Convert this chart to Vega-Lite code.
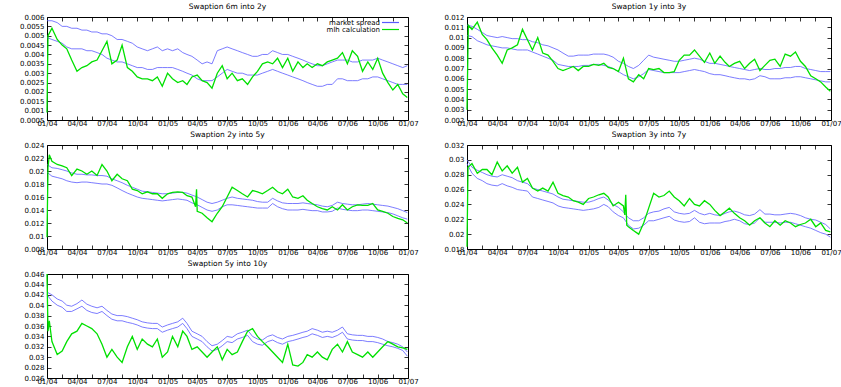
{
 "$schema": "https://vega.github.io/schema/vega-lite/v6.json",
 "padding": {"left": 0, "top": 2, "right": 0, "bottom": 0},
 "background": "white",
 "config": {
  "font": "DejaVu Sans",
  "view": {"stroke": "#000", "strokeWidth": 1},
  "axis": {"domain": false, "grid": false, "labelFont": "DejaVu Sans", "labelFontSize": 7, "labelColor": "#000", "tickColor": "#000", "tickSize": -4, "tickWidth": 0.8, "labelFlush": false, "labelOverlap": false},
  "axisX": {"labelPadding": 3},
  "axisY": {"labelPadding": 7},
  "title": {"font": "DejaVu Sans", "fontSize": 7.5, "fontWeight": "normal", "offset": 2.5, "color": "#000"},
  "legend": {"labelFont": "DejaVu Sans"}
 },
 "datasets": {
  "s1": [
   {"d":"2004-01-01","u":0.0058,"l":0.0049,"m":0.0009},
   {"d":"2004-01-04","m":0.0050},
   {"d":"2004-01-16","u":0.0058,"l":0.0048,"m":0.0054},
   {"d":"2004-02-01","u":0.0057,"l":0.0047,"m":0.0048},
   {"d":"2004-02-16","u":0.0055,"l":0.0046,"m":0.0045},
   {"d":"2004-03-01","u":0.0055,"l":0.0044,"m":0.0043},
   {"d":"2004-03-16","u":0.0054,"l":0.0043,"m":0.0037},
   {"d":"2004-04-01","u":0.0054,"l":0.0043,"m":0.0031},
   {"d":"2004-04-16","u":0.0053,"l":0.0043,"m":0.0033},
   {"d":"2004-05-01","u":0.0053,"l":0.0042,"m":0.0034},
   {"d":"2004-05-16","u":0.0052,"l":0.0042,"m":0.0036},
   {"d":"2004-06-01","u":0.0052,"l":0.0041,"m":0.0037},
   {"d":"2004-06-16","u":0.0051,"l":0.0040,"m":0.0042},
   {"d":"2004-07-01","u":0.0051,"l":0.0038,"m":0.0047},
   {"d":"2004-07-16","u":0.0050,"l":0.0037,"m":0.0035},
   {"d":"2004-08-01","u":0.0048,"l":0.0036,"m":0.0037},
   {"d":"2004-08-16","u":0.0048,"l":0.0036,"m":0.0045},
   {"d":"2004-09-01","u":0.0047,"l":0.0035,"m":0.0033},
   {"d":"2004-09-16","u":0.0046,"l":0.0034,"m":0.0031},
   {"d":"2004-10-01","u":0.0044,"l":0.0033,"m":0.0028},
   {"d":"2004-10-16","u":0.0043,"l":0.0033,"m":0.0027},
   {"d":"2004-11-01","u":0.0042,"l":0.0032,"m":0.0027},
   {"d":"2004-11-16","u":0.0043,"l":0.0032,"m":0.0026},
   {"d":"2004-12-01","u":0.0044,"l":0.0033,"m":0.0028},
   {"d":"2004-12-16","u":0.0042,"l":0.0033,"m":0.0023},
   {"d":"2005-01-01","u":0.0043,"l":0.0033,"m":0.0030},
   {"d":"2005-01-16","u":0.0042,"l":0.0033,"m":0.0027},
   {"d":"2005-02-01","u":0.0043,"l":0.0032,"m":0.0025},
   {"d":"2005-02-16","u":0.0041,"l":0.0031,"m":0.0026},
   {"d":"2005-03-01","u":0.0040,"l":0.0030,"m":0.0024},
   {"d":"2005-03-16","u":0.0039,"l":0.0029,"m":0.0028},
   {"d":"2005-04-01","u":0.0037,"l":0.0027,"m":0.0029},
   {"d":"2005-04-16","u":0.0035,"l":0.0026,"m":0.0026},
   {"d":"2005-05-01","u":0.0036,"l":0.0026,"m":0.0025},
   {"d":"2005-05-16","u":0.0035,"l":0.0026,"m":0.0022},
   {"d":"2005-06-01","u":0.0042,"l":0.0028,"m":0.0030},
   {"d":"2005-06-16","u":0.0043,"l":0.0030,"m":0.0034},
   {"d":"2005-07-01","u":0.0044,"l":0.0032,"m":0.0027},
   {"d":"2005-07-16","u":0.0043,"l":0.0031,"m":0.0030},
   {"d":"2005-08-01","u":0.0042,"l":0.0030,"m":0.0026},
   {"d":"2005-08-16","u":0.0041,"l":0.0030,"m":0.0027},
   {"d":"2005-09-01","u":0.0040,"l":0.0029,"m":0.0024},
   {"d":"2005-09-16","u":0.0039,"l":0.0029,"m":0.0028},
   {"d":"2005-10-01","u":0.0039,"l":0.0029,"m":0.0031},
   {"d":"2005-10-16","u":0.0040,"l":0.0030,"m":0.0035},
   {"d":"2005-11-01","u":0.0040,"l":0.0031,"m":0.0036},
   {"d":"2005-11-16","u":0.0042,"l":0.0032,"m":0.0035},
   {"d":"2005-12-01","u":0.0041,"l":0.0031,"m":0.0038},
   {"d":"2005-12-16","u":0.0040,"l":0.0030,"m":0.0033},
   {"d":"2006-01-01","u":0.0040,"l":0.0029,"m":0.0038},
   {"d":"2006-01-16","u":0.0039,"l":0.0028,"m":0.0031},
   {"d":"2006-02-01","u":0.0038,"l":0.0027,"m":0.0036},
   {"d":"2006-02-16","u":0.0037,"l":0.0026,"m":0.0033},
   {"d":"2006-03-01","u":0.0036,"l":0.0025,"m":0.0035},
   {"d":"2006-03-16","u":0.0035,"l":0.0024,"m":0.0033},
   {"d":"2006-04-01","u":0.0034,"l":0.0023,"m":0.0035},
   {"d":"2006-04-16","u":0.0034,"l":0.0023,"m":0.0034},
   {"d":"2006-05-01","u":0.0035,"l":0.0024,"m":0.0036},
   {"d":"2006-05-16","u":0.0036,"l":0.0024,"m":0.0037},
   {"d":"2006-06-01","u":0.0037,"l":0.0027,"m":0.0038},
   {"d":"2006-06-16","u":0.0037,"l":0.0027,"m":0.0041},
   {"d":"2006-07-01","u":0.0037,"l":0.0026,"m":0.0035},
   {"d":"2006-07-16","u":0.0036,"l":0.0026,"m":0.0042},
   {"d":"2006-08-01","u":0.0036,"l":0.0026,"m":0.0039},
   {"d":"2006-08-16","u":0.0037,"l":0.0027,"m":0.0031},
   {"d":"2006-09-01","u":0.0037,"l":0.0027,"m":0.0036},
   {"d":"2006-09-16","u":0.0037,"l":0.0028,"m":0.0032},
   {"d":"2006-10-01","u":0.0038,"l":0.0028,"m":0.0038},
   {"d":"2006-10-16","u":0.0037,"l":0.0027,"m":0.0030},
   {"d":"2006-11-01","u":0.0036,"l":0.0026,"m":0.0025},
   {"d":"2006-11-16","u":0.0035,"l":0.0025,"m":0.0021},
   {"d":"2006-12-01","u":0.0034,"l":0.0024,"m":0.0024},
   {"d":"2006-12-16","u":0.0033,"l":0.0024,"m":0.0019},
   {"d":"2006-12-30","u":0.0034,"l":0.0024,"m":0.0017}
  ],
  "s2": [
   {"d":"2004-01-01","u":0.0112,"l":0.0102,"m":0.0030},
   {"d":"2004-01-05","m":0.0112},
   {"d":"2004-01-16","u":0.0111,"l":0.0101,"m":0.0108},
   {"d":"2004-02-01","u":0.0108,"l":0.0097,"m":0.0115},
   {"d":"2004-02-16","u":0.0105,"l":0.0095,"m":0.0103},
   {"d":"2004-03-01","u":0.0102,"l":0.0093,"m":0.0098},
   {"d":"2004-03-16","u":0.0101,"l":0.0092,"m":0.0090},
   {"d":"2004-04-01","u":0.0100,"l":0.0091,"m":0.0083},
   {"d":"2004-04-16","u":0.0101,"l":0.0090,"m":0.0075},
   {"d":"2004-05-01","u":0.0100,"l":0.0090,"m":0.0088},
   {"d":"2004-05-16","u":0.0099,"l":0.0089,"m":0.0090},
   {"d":"2004-06-01","u":0.0099,"l":0.0088,"m":0.0093},
   {"d":"2004-06-16","u":0.0098,"l":0.0088,"m":0.0108},
   {"d":"2004-07-01","u":0.0098,"l":0.0088,"m":0.0098},
   {"d":"2004-07-16","u":0.0096,"l":0.0086,"m":0.0088},
   {"d":"2004-08-01","u":0.0095,"l":0.0084,"m":0.0100},
   {"d":"2004-08-16","u":0.0093,"l":0.0082,"m":0.0085},
   {"d":"2004-09-01","u":0.0092,"l":0.0080,"m":0.0083},
   {"d":"2004-09-16","u":0.0090,"l":0.0078,"m":0.0077},
   {"d":"2004-10-01","u":0.0088,"l":0.0074,"m":0.0070},
   {"d":"2004-10-16","u":0.0085,"l":0.0073,"m":0.0068},
   {"d":"2004-11-01","u":0.0082,"l":0.0072,"m":0.0070},
   {"d":"2004-11-16","u":0.0082,"l":0.0072,"m":0.0072},
   {"d":"2004-12-01","u":0.0083,"l":0.0072,"m":0.0068},
   {"d":"2004-12-16","u":0.0083,"l":0.0073,"m":0.0072},
   {"d":"2005-01-01","u":0.0083,"l":0.0073,"m":0.0072},
   {"d":"2005-01-16","u":0.0084,"l":0.0074,"m":0.0074},
   {"d":"2005-02-01","u":0.0084,"l":0.0074,"m":0.0073},
   {"d":"2005-02-16","u":0.0084,"l":0.0073,"m":0.0075},
   {"d":"2005-03-01","u":0.0083,"l":0.0072,"m":0.0071},
   {"d":"2005-03-16","u":0.0081,"l":0.0070,"m":0.0070},
   {"d":"2005-04-01","u":0.0077,"l":0.0067,"m":0.0067},
   {"d":"2005-04-16","u":0.0075,"l":0.0064,"m":0.0080},
   {"d":"2005-05-01","u":0.0072,"l":0.0062,"m":0.0060},
   {"d":"2005-05-16","u":0.0070,"l":0.0060,"m":0.0057},
   {"d":"2005-06-01","u":0.0073,"l":0.0062,"m":0.0064},
   {"d":"2005-06-16","u":0.0078,"l":0.0065,"m":0.0060},
   {"d":"2005-07-01","u":0.0083,"l":0.0069,"m":0.0070},
   {"d":"2005-07-16","u":0.0081,"l":0.0068,"m":0.0069},
   {"d":"2005-08-01","u":0.0080,"l":0.0067,"m":0.0070},
   {"d":"2005-08-16","u":0.0079,"l":0.0066,"m":0.0066},
   {"d":"2005-09-01","u":0.0078,"l":0.0066,"m":0.0066},
   {"d":"2005-09-16","u":0.0077,"l":0.0066,"m":0.0067},
   {"d":"2005-10-01","u":0.0077,"l":0.0066,"m":0.0078},
   {"d":"2005-10-16","u":0.0078,"l":0.0067,"m":0.0083},
   {"d":"2005-11-01","u":0.0079,"l":0.0068,"m":0.0083},
   {"d":"2005-11-16","u":0.0080,"l":0.0069,"m":0.0088},
   {"d":"2005-12-01","u":0.0079,"l":0.0068,"m":0.0082},
   {"d":"2005-12-16","u":0.0077,"l":0.0067,"m":0.0076},
   {"d":"2006-01-01","u":0.0075,"l":0.0065,"m":0.0085},
   {"d":"2006-01-16","u":0.0075,"l":0.0064,"m":0.0075},
   {"d":"2006-02-01","u":0.0074,"l":0.0064,"m":0.0082},
   {"d":"2006-02-16","u":0.0073,"l":0.0063,"m":0.0076},
   {"d":"2006-03-01","u":0.0072,"l":0.0062,"m":0.0072},
   {"d":"2006-03-16","u":0.0071,"l":0.0061,"m":0.0075},
   {"d":"2006-04-01","u":0.0070,"l":0.0060,"m":0.0077},
   {"d":"2006-04-16","u":0.0069,"l":0.0060,"m":0.0070},
   {"d":"2006-05-01","u":0.0068,"l":0.0059,"m":0.0075},
   {"d":"2006-05-16","u":0.0069,"l":0.0060,"m":0.0079},
   {"d":"2006-06-01","u":0.0070,"l":0.0063,"m":0.0068},
   {"d":"2006-06-16","u":0.0069,"l":0.0062,"m":0.0073},
   {"d":"2006-07-01","u":0.0069,"l":0.0060,"m":0.0078},
   {"d":"2006-07-16","u":0.0070,"l":0.0060,"m":0.0079},
   {"d":"2006-08-01","u":0.0070,"l":0.0060,"m":0.0072},
   {"d":"2006-08-16","u":0.0071,"l":0.0061,"m":0.0084},
   {"d":"2006-09-01","u":0.0071,"l":0.0061,"m":0.0082},
   {"d":"2006-09-16","u":0.0072,"l":0.0062,"m":0.0086},
   {"d":"2006-10-01","u":0.0072,"l":0.0062,"m":0.0077},
   {"d":"2006-10-16","u":0.0070,"l":0.0061,"m":0.0072},
   {"d":"2006-11-01","u":0.0069,"l":0.0060,"m":0.0063},
   {"d":"2006-11-16","u":0.0068,"l":0.0059,"m":0.0060},
   {"d":"2006-12-01","u":0.0067,"l":0.0058,"m":0.0057},
   {"d":"2006-12-16","u":0.0067,"l":0.0057,"m":0.0052},
   {"d":"2006-12-30","u":0.0067,"l":0.0057,"m":0.0048}
  ],
  "s3": [
   {"d":"2004-01-01","u":0.0210,"l":0.0198,"m":0.0098},
   {"d":"2004-01-04","m":0.0205},
   {"d":"2004-01-08","m":0.0225},
   {"d":"2004-01-16","u":0.0205,"l":0.0192,"m":0.0215},
   {"d":"2004-02-01","u":0.0204,"l":0.0190,"m":0.0210},
   {"d":"2004-02-16","u":0.0202,"l":0.0188,"m":0.0208},
   {"d":"2004-03-01","u":0.0200,"l":0.0185,"m":0.0205},
   {"d":"2004-03-16","u":0.0197,"l":0.0183,"m":0.0193},
   {"d":"2004-04-01","u":0.0195,"l":0.0182,"m":0.0203},
   {"d":"2004-04-16","u":0.0195,"l":0.0183,"m":0.0200},
   {"d":"2004-05-01","u":0.0194,"l":0.0183,"m":0.0195},
   {"d":"2004-05-16","u":0.0194,"l":0.0182,"m":0.0200},
   {"d":"2004-06-01","u":0.0193,"l":0.0181,"m":0.0193},
   {"d":"2004-06-16","u":0.0193,"l":0.0180,"m":0.0210},
   {"d":"2004-07-01","u":0.0192,"l":0.0180,"m":0.0200},
   {"d":"2004-07-16","u":0.0188,"l":0.0178,"m":0.0185},
   {"d":"2004-08-01","u":0.0185,"l":0.0174,"m":0.0195},
   {"d":"2004-08-16","u":0.0182,"l":0.0170,"m":0.0188},
   {"d":"2004-09-01","u":0.0178,"l":0.0166,"m":0.0185},
   {"d":"2004-09-16","u":0.0175,"l":0.0163,"m":0.0172},
   {"d":"2004-10-01","u":0.0172,"l":0.0160,"m":0.0170},
   {"d":"2004-10-16","u":0.0169,"l":0.0158,"m":0.0165},
   {"d":"2004-11-01","u":0.0168,"l":0.0157,"m":0.0168},
   {"d":"2004-11-16","u":0.0167,"l":0.0156,"m":0.0165},
   {"d":"2004-12-01","u":0.0166,"l":0.0155,"m":0.0165},
   {"d":"2004-12-16","u":0.0165,"l":0.0154,"m":0.0158},
   {"d":"2005-01-01","u":0.0165,"l":0.0155,"m":0.0165},
   {"d":"2005-01-16","u":0.0166,"l":0.0156,"m":0.0167},
   {"d":"2005-02-01","u":0.0167,"l":0.0157,"m":0.0168},
   {"d":"2005-02-16","u":0.0167,"l":0.0156,"m":0.0167},
   {"d":"2005-03-01","u":0.0166,"l":0.0155,"m":0.0162},
   {"d":"2005-03-16","u":0.0163,"l":0.0151,"m":0.0160},
   {"d":"2005-03-27","m":0.0145},
   {"d":"2005-03-30","m":0.0172},
   {"d":"2005-04-01","u":0.0160,"l":0.0148,"m":0.0138},
   {"d":"2005-04-16","u":0.0156,"l":0.0144,"m":0.0135},
   {"d":"2005-05-01","u":0.0152,"l":0.0140,"m":0.0128},
   {"d":"2005-05-16","u":0.0150,"l":0.0138,"m":0.0122},
   {"d":"2005-06-01","u":0.0152,"l":0.0140,"m":0.0135},
   {"d":"2005-06-16","u":0.0155,"l":0.0145,"m":0.0145},
   {"d":"2005-07-01","u":0.0158,"l":0.0148,"m":0.0160},
   {"d":"2005-07-16","u":0.0160,"l":0.0148,"m":0.0175},
   {"d":"2005-08-01","u":0.0158,"l":0.0147,"m":0.0170},
   {"d":"2005-08-16","u":0.0157,"l":0.0146,"m":0.0165},
   {"d":"2005-09-01","u":0.0156,"l":0.0145,"m":0.0160},
   {"d":"2005-09-16","u":0.0155,"l":0.0144,"m":0.0170},
   {"d":"2005-10-01","u":0.0153,"l":0.0143,"m":0.0168},
   {"d":"2005-10-16","u":0.0152,"l":0.0143,"m":0.0165},
   {"d":"2005-11-01","u":0.0152,"l":0.0143,"m":0.0170},
   {"d":"2005-11-16","u":0.0158,"l":0.0150,"m":0.0175},
   {"d":"2005-12-01","u":0.0154,"l":0.0145,"m":0.0168},
   {"d":"2005-12-16","u":0.0151,"l":0.0142,"m":0.0165},
   {"d":"2006-01-01","u":0.0150,"l":0.0140,"m":0.0172},
   {"d":"2006-01-16","u":0.0150,"l":0.0140,"m":0.0160},
   {"d":"2006-02-01","u":0.0150,"l":0.0140,"m":0.0158},
   {"d":"2006-02-16","u":0.0151,"l":0.0141,"m":0.0162},
   {"d":"2006-03-01","u":0.0150,"l":0.0140,"m":0.0155},
   {"d":"2006-03-16","u":0.0149,"l":0.0139,"m":0.0150},
   {"d":"2006-04-01","u":0.0148,"l":0.0139,"m":0.0145},
   {"d":"2006-04-16","u":0.0146,"l":0.0137,"m":0.0142},
   {"d":"2006-05-01","u":0.0145,"l":0.0137,"m":0.0140},
   {"d":"2006-05-16","u":0.0147,"l":0.0138,"m":0.0145},
   {"d":"2006-06-01","u":0.0152,"l":0.0143,"m":0.0140},
   {"d":"2006-06-16","u":0.0150,"l":0.0141,"m":0.0148},
   {"d":"2006-07-01","u":0.0149,"l":0.0140,"m":0.0140},
   {"d":"2006-07-16","u":0.0148,"l":0.0139,"m":0.0145},
   {"d":"2006-08-01","u":0.0148,"l":0.0139,"m":0.0148},
   {"d":"2006-08-16","u":0.0149,"l":0.0140,"m":0.0147},
   {"d":"2006-09-01","u":0.0150,"l":0.0140,"m":0.0147},
   {"d":"2006-09-16","u":0.0149,"l":0.0139,"m":0.0150},
   {"d":"2006-10-01","u":0.0148,"l":0.0138,"m":0.0140},
   {"d":"2006-10-16","u":0.0147,"l":0.0137,"m":0.0138},
   {"d":"2006-11-01","u":0.0146,"l":0.0136,"m":0.0135},
   {"d":"2006-11-16","u":0.0144,"l":0.0134,"m":0.0130},
   {"d":"2006-12-01","u":0.0142,"l":0.0131,"m":0.0127},
   {"d":"2006-12-16","u":0.0139,"l":0.0128,"m":0.0125},
   {"d":"2006-12-30","u":0.0136,"l":0.0126,"m":0.0120}
  ],
  "s4": [
   {"d":"2004-01-01","u":0.0300,"l":0.0295,"m":0.0183},
   {"d":"2004-01-04","m":0.0290},
   {"d":"2004-01-16","u":0.0290,"l":0.0282,"m":0.0295},
   {"d":"2004-02-01","u":0.0286,"l":0.0275,"m":0.0282},
   {"d":"2004-02-16","u":0.0283,"l":0.0272,"m":0.0287},
   {"d":"2004-03-01","u":0.0280,"l":0.0268,"m":0.0287},
   {"d":"2004-03-16","u":0.0278,"l":0.0266,"m":0.0280},
   {"d":"2004-04-01","u":0.0277,"l":0.0265,"m":0.0297},
   {"d":"2004-04-16","u":0.0280,"l":0.0268,"m":0.0285},
   {"d":"2004-05-01","u":0.0278,"l":0.0265,"m":0.0292},
   {"d":"2004-05-16","u":0.0276,"l":0.0263,"m":0.0282},
   {"d":"2004-06-01","u":0.0272,"l":0.0260,"m":0.0290},
   {"d":"2004-06-16","u":0.0270,"l":0.0259,"m":0.0270},
   {"d":"2004-07-01","u":0.0268,"l":0.0258,"m":0.0275},
   {"d":"2004-07-16","u":0.0262,"l":0.0250,"m":0.0262},
   {"d":"2004-08-01","u":0.0260,"l":0.0248,"m":0.0258},
   {"d":"2004-08-16","u":0.0258,"l":0.0246,"m":0.0262},
   {"d":"2004-09-01","u":0.0256,"l":0.0244,"m":0.0258},
   {"d":"2004-09-16","u":0.0254,"l":0.0242,"m":0.0270},
   {"d":"2004-10-01","u":0.0250,"l":0.0238,"m":0.0255},
   {"d":"2004-10-16","u":0.0247,"l":0.0236,"m":0.0252},
   {"d":"2004-11-01","u":0.0246,"l":0.0235,"m":0.0250},
   {"d":"2004-11-16","u":0.0245,"l":0.0234,"m":0.0245},
   {"d":"2004-12-01","u":0.0244,"l":0.0233,"m":0.0243},
   {"d":"2004-12-16","u":0.0243,"l":0.0232,"m":0.0240},
   {"d":"2005-01-01","u":0.0243,"l":0.0233,"m":0.0248},
   {"d":"2005-01-16","u":0.0245,"l":0.0234,"m":0.0250},
   {"d":"2005-02-01","u":0.0248,"l":0.0236,"m":0.0253},
   {"d":"2005-02-16","u":0.0250,"l":0.0240,"m":0.0255},
   {"d":"2005-03-01","u":0.0246,"l":0.0237,"m":0.0250},
   {"d":"2005-03-16","u":0.0240,"l":0.0230,"m":0.0238},
   {"d":"2005-04-01","u":0.0236,"l":0.0225,"m":0.0243},
   {"d":"2005-04-16","u":0.0230,"l":0.0222,"m":0.0238},
   {"d":"2005-04-20","m":0.0226},
   {"d":"2005-04-23","m":0.0253},
   {"d":"2005-04-26","m":0.0212},
   {"d":"2005-05-01","u":0.0222,"l":0.0212,"m":0.0210},
   {"d":"2005-05-16","u":0.0218,"l":0.0207,"m":0.0205},
   {"d":"2005-06-01","u":0.0218,"l":0.0208,"m":0.0200},
   {"d":"2005-06-16","u":0.0222,"l":0.0212,"m":0.0215},
   {"d":"2005-07-01","u":0.0228,"l":0.0218,"m":0.0235},
   {"d":"2005-07-16","u":0.0230,"l":0.0218,"m":0.0255},
   {"d":"2005-08-01","u":0.0231,"l":0.0220,"m":0.0250},
   {"d":"2005-08-16","u":0.0234,"l":0.0222,"m":0.0252},
   {"d":"2005-09-01","u":0.0236,"l":0.0224,"m":0.0258},
   {"d":"2005-09-16","u":0.0230,"l":0.0219,"m":0.0250},
   {"d":"2005-10-01","u":0.0228,"l":0.0217,"m":0.0245},
   {"d":"2005-10-16","u":0.0227,"l":0.0216,"m":0.0238},
   {"d":"2005-11-01","u":0.0228,"l":0.0217,"m":0.0248},
   {"d":"2005-11-16","u":0.0232,"l":0.0222,"m":0.0240},
   {"d":"2005-12-01","u":0.0228,"l":0.0216,"m":0.0238},
   {"d":"2005-12-16","u":0.0226,"l":0.0214,"m":0.0245},
   {"d":"2006-01-01","u":0.0228,"l":0.0215,"m":0.0240},
   {"d":"2006-01-16","u":0.0226,"l":0.0215,"m":0.0232},
   {"d":"2006-02-01","u":0.0225,"l":0.0215,"m":0.0225},
   {"d":"2006-02-16","u":0.0228,"l":0.0217,"m":0.0230},
   {"d":"2006-03-01","u":0.0230,"l":0.0218,"m":0.0235},
   {"d":"2006-03-16","u":0.0231,"l":0.0220,"m":0.0228},
   {"d":"2006-04-01","u":0.0229,"l":0.0218,"m":0.0222},
   {"d":"2006-04-16","u":0.0226,"l":0.0214,"m":0.0218},
   {"d":"2006-05-01","u":0.0225,"l":0.0213,"m":0.0212},
   {"d":"2006-05-16","u":0.0227,"l":0.0215,"m":0.0218},
   {"d":"2006-06-01","u":0.0233,"l":0.0222,"m":0.0222},
   {"d":"2006-06-16","u":0.0227,"l":0.0216,"m":0.0215},
   {"d":"2006-07-01","u":0.0227,"l":0.0216,"m":0.0210},
   {"d":"2006-07-16","u":0.0226,"l":0.0216,"m":0.0218},
   {"d":"2006-08-01","u":0.0226,"l":0.0215,"m":0.0212},
   {"d":"2006-08-16","u":0.0227,"l":0.0216,"m":0.0218},
   {"d":"2006-09-01","u":0.0228,"l":0.0216,"m":0.0215},
   {"d":"2006-09-16","u":0.0227,"l":0.0214,"m":0.0210},
   {"d":"2006-10-01","u":0.0225,"l":0.0212,"m":0.0213},
   {"d":"2006-10-16","u":0.0222,"l":0.0210,"m":0.0215},
   {"d":"2006-11-01","u":0.0220,"l":0.0208,"m":0.0220},
   {"d":"2006-11-16","u":0.0219,"l":0.0205,"m":0.0210},
   {"d":"2006-12-01","u":0.0216,"l":0.0202,"m":0.0215},
   {"d":"2006-12-16","u":0.0213,"l":0.0200,"m":0.0205},
   {"d":"2006-12-30","u":0.0207,"l":0.0196,"m":0.0203}
  ],
  "s5": [
   {"d":"2004-01-01","u":0.0425,"l":0.0420,"m":0.0460},
   {"d":"2004-01-04","m":0.0350},
   {"d":"2004-01-08","m":0.0370},
   {"d":"2004-01-16","u":0.0420,"l":0.0408,"m":0.0330},
   {"d":"2004-02-01","u":0.0412,"l":0.0400,"m":0.0305},
   {"d":"2004-02-16","u":0.0408,"l":0.0396,"m":0.0312},
   {"d":"2004-03-01","u":0.0400,"l":0.0388,"m":0.0330},
   {"d":"2004-03-16","u":0.0398,"l":0.0388,"m":0.0345},
   {"d":"2004-04-01","u":0.0403,"l":0.0393,"m":0.0350},
   {"d":"2004-04-16","u":0.0410,"l":0.0398,"m":0.0365},
   {"d":"2004-05-01","u":0.0402,"l":0.0390,"m":0.0360},
   {"d":"2004-05-16","u":0.0398,"l":0.0386,"m":0.0355},
   {"d":"2004-06-01","u":0.0395,"l":0.0384,"m":0.0345},
   {"d":"2004-06-16","u":0.0398,"l":0.0388,"m":0.0325},
   {"d":"2004-07-01","u":0.0390,"l":0.0380,"m":0.0300},
   {"d":"2004-07-16","u":0.0383,"l":0.0373,"m":0.0315},
   {"d":"2004-08-01","u":0.0380,"l":0.0370,"m":0.0300},
   {"d":"2004-08-16","u":0.0380,"l":0.0370,"m":0.0290},
   {"d":"2004-09-01","u":0.0378,"l":0.0367,"m":0.0320},
   {"d":"2004-09-16","u":0.0375,"l":0.0365,"m":0.0340},
   {"d":"2004-10-01","u":0.0372,"l":0.0362,"m":0.0315},
   {"d":"2004-10-16","u":0.0368,"l":0.0358,"m":0.0335},
   {"d":"2004-11-01","u":0.0366,"l":0.0356,"m":0.0325},
   {"d":"2004-11-16","u":0.0365,"l":0.0355,"m":0.0320},
   {"d":"2004-12-01","u":0.0365,"l":0.0355,"m":0.0335},
   {"d":"2004-12-16","u":0.0358,"l":0.0348,"m":0.0300},
   {"d":"2005-01-01","u":0.0362,"l":0.0352,"m":0.0310},
   {"d":"2005-01-16","u":0.0365,"l":0.0355,"m":0.0340},
   {"d":"2005-02-01","u":0.0368,"l":0.0358,"m":0.0320},
   {"d":"2005-02-16","u":0.0375,"l":0.0365,"m":0.0350},
   {"d":"2005-03-01","u":0.0365,"l":0.0355,"m":0.0340},
   {"d":"2005-03-16","u":0.0350,"l":0.0340,"m":0.0315},
   {"d":"2005-04-01","u":0.0345,"l":0.0335,"m":0.0320},
   {"d":"2005-04-16","u":0.0340,"l":0.0330,"m":0.0310},
   {"d":"2005-05-01","u":0.0330,"l":0.0320,"m":0.0300},
   {"d":"2005-05-16","u":0.0322,"l":0.0312,"m":0.0310},
   {"d":"2005-06-01","u":0.0325,"l":0.0315,"m":0.0320},
   {"d":"2005-06-16","u":0.0332,"l":0.0322,"m":0.0295},
   {"d":"2005-07-01","u":0.0340,"l":0.0330,"m":0.0315},
   {"d":"2005-07-16","u":0.0338,"l":0.0328,"m":0.0305},
   {"d":"2005-08-01","u":0.0345,"l":0.0335,"m":0.0310},
   {"d":"2005-08-16","u":0.0348,"l":0.0338,"m":0.0330},
   {"d":"2005-09-01","u":0.0352,"l":0.0342,"m":0.0350},
   {"d":"2005-09-16","u":0.0340,"l":0.0330,"m":0.0355},
   {"d":"2005-10-01","u":0.0335,"l":0.0325,"m":0.0340},
   {"d":"2005-10-16","u":0.0333,"l":0.0323,"m":0.0330},
   {"d":"2005-11-01","u":0.0340,"l":0.0330,"m":0.0320},
   {"d":"2005-11-16","u":0.0343,"l":0.0333,"m":0.0310},
   {"d":"2005-12-01","u":0.0338,"l":0.0328,"m":0.0300},
   {"d":"2005-12-16","u":0.0335,"l":0.0325,"m":0.0290},
   {"d":"2006-01-01","u":0.0340,"l":0.0330,"m":0.0325},
   {"d":"2006-01-16","u":0.0342,"l":0.0332,"m":0.0285},
   {"d":"2006-02-01","u":0.0345,"l":0.0335,"m":0.0283},
   {"d":"2006-02-16","u":0.0348,"l":0.0338,"m":0.0290},
   {"d":"2006-03-01","u":0.0350,"l":0.0340,"m":0.0305},
   {"d":"2006-03-16","u":0.0355,"l":0.0345,"m":0.0300},
   {"d":"2006-04-01","u":0.0352,"l":0.0342,"m":0.0310},
   {"d":"2006-04-16","u":0.0348,"l":0.0338,"m":0.0300},
   {"d":"2006-05-01","u":0.0350,"l":0.0340,"m":0.0295},
   {"d":"2006-05-16","u":0.0348,"l":0.0338,"m":0.0315},
   {"d":"2006-06-01","u":0.0352,"l":0.0342,"m":0.0325},
   {"d":"2006-06-16","u":0.0358,"l":0.0348,"m":0.0310},
   {"d":"2006-07-01","u":0.0345,"l":0.0335,"m":0.0330},
   {"d":"2006-07-16","u":0.0343,"l":0.0333,"m":0.0310},
   {"d":"2006-08-01","u":0.0342,"l":0.0332,"m":0.0305},
   {"d":"2006-08-16","u":0.0342,"l":0.0332,"m":0.0300},
   {"d":"2006-09-01","u":0.0340,"l":0.0330,"m":0.0310},
   {"d":"2006-09-16","u":0.0340,"l":0.0330,"m":0.0300},
   {"d":"2006-10-01","u":0.0338,"l":0.0328,"m":0.0310},
   {"d":"2006-10-16","u":0.0335,"l":0.0325,"m":0.0320},
   {"d":"2006-11-01","u":0.0330,"l":0.0322,"m":0.0330},
   {"d":"2006-11-16","u":0.0328,"l":0.0320,"m":0.0325},
   {"d":"2006-12-01","u":0.0325,"l":0.0317,"m":0.0320},
   {"d":"2006-12-16","u":0.0320,"l":0.0313,"m":0.0318},
   {"d":"2006-12-30","u":0.0310,"l":0.0302,"m":0.0315}
  ]
 },
 "hconcat": [
  {
   "spacing": 3,
   "resolve": {"legend": {"color": "independent"}},
   "vconcat": [
    {
     "title": "Swaption 6m into 2y", "width": 361, "height": 103, "data": {"name": "s1"},
     "resolve": {"axis": {"x": "independent", "y": "independent"}},
     "layer": [
      {"transform": [{"fold": ["u", "l"], "as": ["k", "v"]}, {"filter": "isValid(datum.v)"}],
       "mark": {"type": "line", "strokeWidth": 0.8},
       "encoding": {
        "x": {"field": "d", "type": "temporal", "title": null, "scale": {"domain": [{"year": 2004, "month": 1, "date": 1}, {"year": 2007, "month": 1, "date": 1}]}, "axis": {"values": [{"year":2004,"month":1,"date":1},{"year":2004,"month":2,"date":15},{"year":2004,"month":4,"date":1},{"year":2004,"month":5,"date":16},{"year":2004,"month":7,"date":1},{"year":2004,"month":8,"date":16},{"year":2004,"month":10,"date":1},{"year":2004,"month":11,"date":15},{"year":2005,"month":1,"date":1},{"year":2005,"month":2,"date":15},{"year":2005,"month":4,"date":1},{"year":2005,"month":5,"date":16},{"year":2005,"month":7,"date":1},{"year":2005,"month":8,"date":16},{"year":2005,"month":10,"date":1},{"year":2005,"month":11,"date":15},{"year":2006,"month":1,"date":1},{"year":2006,"month":2,"date":15},{"year":2006,"month":4,"date":1},{"year":2006,"month":5,"date":16},{"year":2006,"month":7,"date":1},{"year":2006,"month":8,"date":16},{"year":2006,"month":10,"date":1},{"year":2006,"month":11,"date":15},{"year":2007,"month":1,"date":1}], "labelExpr": "date(datum.value) == 1 ? timeFormat(datum.value, '%m/%y') : ''"}},
        "y": {"field": "v", "type": "quantitative", "title": null, "scale": {"domain": [0.0005, 0.006], "nice": false, "zero": false}, "axis": {"values": [0.0005,0.001,0.0015,0.002,0.0025,0.003,0.0035,0.004,0.0045,0.005,0.0055,0.006], "format": "~g", "minExtent": 46, "maxExtent": 46}},
        "detail": {"field": "k"},
        "color": {"datum": "market spread", "type": "nominal", "scale": {"domain": ["market spread", "mlh calculation"], "range": ["#5a5aff", "#00e000"]},
          "legend": {"orient": "none", "legendX": 340, "legendY": 2, "title": null, "symbolType": "M-3.4,0H3.4", "symbolSize": 25, "symbolStrokeWidth": 1.2, "labelFontSize": 7, "rowPadding": -4.5, "padding": 0, "labelAlign": "right", "labelOffset": -14}}
       }},
      {"transform": [{"filter": "isValid(datum.m)"}],
       "mark": {"type": "line", "strokeWidth": 1.3},
       "encoding": {
        "x": {"field": "d", "type": "temporal", "title": null, "axis": {"orient": "top", "labels": false, "values": [{"year":2004,"month":1,"date":1},{"year":2004,"month":2,"date":15},{"year":2004,"month":4,"date":1},{"year":2004,"month":5,"date":16},{"year":2004,"month":7,"date":1},{"year":2004,"month":8,"date":16},{"year":2004,"month":10,"date":1},{"year":2004,"month":11,"date":15},{"year":2005,"month":1,"date":1},{"year":2005,"month":2,"date":15},{"year":2005,"month":4,"date":1},{"year":2005,"month":5,"date":16},{"year":2005,"month":7,"date":1},{"year":2005,"month":8,"date":16},{"year":2005,"month":10,"date":1},{"year":2005,"month":11,"date":15},{"year":2006,"month":1,"date":1},{"year":2006,"month":2,"date":15},{"year":2006,"month":4,"date":1},{"year":2006,"month":5,"date":16},{"year":2006,"month":7,"date":1},{"year":2006,"month":8,"date":16},{"year":2006,"month":10,"date":1},{"year":2006,"month":11,"date":15},{"year":2007,"month":1,"date":1}], "minExtent": 0, "maxExtent": 0}},
        "y": {"field": "m", "type": "quantitative", "title": null, "axis": {"orient": "right", "labels": false, "values": [0.0005,0.001,0.0015,0.002,0.0025,0.003,0.0035,0.004,0.0045,0.005,0.0055,0.006], "minExtent": 0, "maxExtent": 0}},
        "color": {"datum": "mlh calculation", "type": "nominal"}
       }}
     ]
    },
    {
     "title": "Swaption 2y into 5y", "width": 361, "height": 104, "data": {"name": "s3"},
     "resolve": {"axis": {"x": "independent", "y": "independent"}},
     "layer": [
      {"transform": [{"fold": ["u", "l"], "as": ["k", "v"]}, {"filter": "isValid(datum.v)"}],
       "mark": {"type": "line", "strokeWidth": 0.8},
       "encoding": {
        "x": {"field": "d", "type": "temporal", "title": null, "scale": {"domain": [{"year": 2004, "month": 1, "date": 1}, {"year": 2007, "month": 1, "date": 1}]}, "axis": {"values": [{"year":2004,"month":1,"date":1},{"year":2004,"month":2,"date":15},{"year":2004,"month":4,"date":1},{"year":2004,"month":5,"date":16},{"year":2004,"month":7,"date":1},{"year":2004,"month":8,"date":16},{"year":2004,"month":10,"date":1},{"year":2004,"month":11,"date":15},{"year":2005,"month":1,"date":1},{"year":2005,"month":2,"date":15},{"year":2005,"month":4,"date":1},{"year":2005,"month":5,"date":16},{"year":2005,"month":7,"date":1},{"year":2005,"month":8,"date":16},{"year":2005,"month":10,"date":1},{"year":2005,"month":11,"date":15},{"year":2006,"month":1,"date":1},{"year":2006,"month":2,"date":15},{"year":2006,"month":4,"date":1},{"year":2006,"month":5,"date":16},{"year":2006,"month":7,"date":1},{"year":2006,"month":8,"date":16},{"year":2006,"month":10,"date":1},{"year":2006,"month":11,"date":15},{"year":2007,"month":1,"date":1}], "labelExpr": "date(datum.value) == 1 ? timeFormat(datum.value, '%m/%y') : ''"}},
        "y": {"field": "v", "type": "quantitative", "title": null, "scale": {"domain": [0.008, 0.024], "nice": false, "zero": false}, "axis": {"values": [0.008,0.01,0.012,0.014,0.016,0.018,0.02,0.022,0.024], "format": "~g", "minExtent": 46, "maxExtent": 46}},
        "detail": {"field": "k"},
        "color": {"datum": "market spread", "type": "nominal", "scale": {"domain": ["market spread", "mlh calculation"], "range": ["#5a5aff", "#00e000"]}, "legend": null}
       }},
      {"transform": [{"filter": "isValid(datum.m)"}],
       "mark": {"type": "line", "strokeWidth": 1.3},
       "encoding": {
        "x": {"field": "d", "type": "temporal", "title": null, "axis": {"orient": "top", "labels": false, "values": [{"year":2004,"month":1,"date":1},{"year":2004,"month":2,"date":15},{"year":2004,"month":4,"date":1},{"year":2004,"month":5,"date":16},{"year":2004,"month":7,"date":1},{"year":2004,"month":8,"date":16},{"year":2004,"month":10,"date":1},{"year":2004,"month":11,"date":15},{"year":2005,"month":1,"date":1},{"year":2005,"month":2,"date":15},{"year":2005,"month":4,"date":1},{"year":2005,"month":5,"date":16},{"year":2005,"month":7,"date":1},{"year":2005,"month":8,"date":16},{"year":2005,"month":10,"date":1},{"year":2005,"month":11,"date":15},{"year":2006,"month":1,"date":1},{"year":2006,"month":2,"date":15},{"year":2006,"month":4,"date":1},{"year":2006,"month":5,"date":16},{"year":2006,"month":7,"date":1},{"year":2006,"month":8,"date":16},{"year":2006,"month":10,"date":1},{"year":2006,"month":11,"date":15},{"year":2007,"month":1,"date":1}], "minExtent": 0, "maxExtent": 0}},
        "y": {"field": "m", "type": "quantitative", "title": null, "axis": {"orient": "right", "labels": false, "values": [0.008,0.01,0.012,0.014,0.016,0.018,0.02,0.022,0.024], "minExtent": 0, "maxExtent": 0}},
        "color": {"datum": "mlh calculation", "type": "nominal", "legend": null}
       }}
     ]
    },
    {
     "title": "Swaption 5y into 10y", "width": 361, "height": 104, "data": {"name": "s5"},
     "resolve": {"axis": {"x": "independent", "y": "independent"}},
     "layer": [
      {"transform": [{"fold": ["u", "l"], "as": ["k", "v"]}, {"filter": "isValid(datum.v)"}],
       "mark": {"type": "line", "strokeWidth": 0.8},
       "encoding": {
        "x": {"field": "d", "type": "temporal", "title": null, "scale": {"domain": [{"year": 2004, "month": 1, "date": 1}, {"year": 2007, "month": 1, "date": 1}]}, "axis": {"values": [{"year":2004,"month":1,"date":1},{"year":2004,"month":2,"date":15},{"year":2004,"month":4,"date":1},{"year":2004,"month":5,"date":16},{"year":2004,"month":7,"date":1},{"year":2004,"month":8,"date":16},{"year":2004,"month":10,"date":1},{"year":2004,"month":11,"date":15},{"year":2005,"month":1,"date":1},{"year":2005,"month":2,"date":15},{"year":2005,"month":4,"date":1},{"year":2005,"month":5,"date":16},{"year":2005,"month":7,"date":1},{"year":2005,"month":8,"date":16},{"year":2005,"month":10,"date":1},{"year":2005,"month":11,"date":15},{"year":2006,"month":1,"date":1},{"year":2006,"month":2,"date":15},{"year":2006,"month":4,"date":1},{"year":2006,"month":5,"date":16},{"year":2006,"month":7,"date":1},{"year":2006,"month":8,"date":16},{"year":2006,"month":10,"date":1},{"year":2006,"month":11,"date":15},{"year":2007,"month":1,"date":1}], "labelExpr": "date(datum.value) == 1 ? timeFormat(datum.value, '%m/%y') : ''"}},
        "y": {"field": "v", "type": "quantitative", "title": null, "scale": {"domain": [0.026, 0.046], "nice": false, "zero": false}, "axis": {"values": [0.026,0.028,0.03,0.032,0.034,0.036,0.038,0.04,0.042,0.044,0.046], "format": "~g", "minExtent": 46, "maxExtent": 46}},
        "detail": {"field": "k"},
        "color": {"datum": "market spread", "type": "nominal", "scale": {"domain": ["market spread", "mlh calculation"], "range": ["#5a5aff", "#00e000"]}, "legend": null}
       }},
      {"transform": [{"filter": "isValid(datum.m)"}],
       "mark": {"type": "line", "strokeWidth": 1.3},
       "encoding": {
        "x": {"field": "d", "type": "temporal", "title": null, "axis": {"orient": "top", "labels": false, "values": [{"year":2004,"month":1,"date":1},{"year":2004,"month":2,"date":15},{"year":2004,"month":4,"date":1},{"year":2004,"month":5,"date":16},{"year":2004,"month":7,"date":1},{"year":2004,"month":8,"date":16},{"year":2004,"month":10,"date":1},{"year":2004,"month":11,"date":15},{"year":2005,"month":1,"date":1},{"year":2005,"month":2,"date":15},{"year":2005,"month":4,"date":1},{"year":2005,"month":5,"date":16},{"year":2005,"month":7,"date":1},{"year":2005,"month":8,"date":16},{"year":2005,"month":10,"date":1},{"year":2005,"month":11,"date":15},{"year":2006,"month":1,"date":1},{"year":2006,"month":2,"date":15},{"year":2006,"month":4,"date":1},{"year":2006,"month":5,"date":16},{"year":2006,"month":7,"date":1},{"year":2006,"month":8,"date":16},{"year":2006,"month":10,"date":1},{"year":2006,"month":11,"date":15},{"year":2007,"month":1,"date":1}], "minExtent": 0, "maxExtent": 0}},
        "y": {"field": "m", "type": "quantitative", "title": null, "axis": {"orient": "right", "labels": false, "values": [0.026,0.028,0.03,0.032,0.034,0.036,0.038,0.04,0.042,0.044,0.046], "minExtent": 0, "maxExtent": 0}},
        "color": {"datum": "mlh calculation", "type": "nominal", "legend": null}
       }}
     ]
    }
   ]
  },
  {
   "spacing": 3,
   "resolve": {"legend": {"color": "independent"}},
   "vconcat": [
    {
     "title": "Swaption 1y into 3y", "width": 364, "height": 103, "data": {"name": "s2"},
     "resolve": {"axis": {"x": "independent", "y": "independent"}},
     "layer": [
      {"transform": [{"fold": ["u", "l"], "as": ["k", "v"]}, {"filter": "isValid(datum.v)"}],
       "mark": {"type": "line", "strokeWidth": 0.8},
       "encoding": {
        "x": {"field": "d", "type": "temporal", "title": null, "scale": {"domain": [{"year": 2004, "month": 1, "date": 1}, {"year": 2007, "month": 1, "date": 1}]}, "axis": {"values": [{"year":2004,"month":1,"date":1},{"year":2004,"month":2,"date":15},{"year":2004,"month":4,"date":1},{"year":2004,"month":5,"date":16},{"year":2004,"month":7,"date":1},{"year":2004,"month":8,"date":16},{"year":2004,"month":10,"date":1},{"year":2004,"month":11,"date":15},{"year":2005,"month":1,"date":1},{"year":2005,"month":2,"date":15},{"year":2005,"month":4,"date":1},{"year":2005,"month":5,"date":16},{"year":2005,"month":7,"date":1},{"year":2005,"month":8,"date":16},{"year":2005,"month":10,"date":1},{"year":2005,"month":11,"date":15},{"year":2006,"month":1,"date":1},{"year":2006,"month":2,"date":15},{"year":2006,"month":4,"date":1},{"year":2006,"month":5,"date":16},{"year":2006,"month":7,"date":1},{"year":2006,"month":8,"date":16},{"year":2006,"month":10,"date":1},{"year":2006,"month":11,"date":15},{"year":2007,"month":1,"date":1}], "labelExpr": "date(datum.value) == 1 ? timeFormat(datum.value, '%m/%y') : ''"}},
        "y": {"field": "v", "type": "quantitative", "title": null, "scale": {"domain": [0.002, 0.012], "nice": false, "zero": false}, "axis": {"values": [0.002,0.003,0.004,0.005,0.006,0.007,0.008,0.009,0.01,0.011,0.012], "format": "~g", "minExtent": 43, "maxExtent": 43}},
        "detail": {"field": "k"},
        "color": {"datum": "market spread", "type": "nominal", "scale": {"domain": ["market spread", "mlh calculation"], "range": ["#5a5aff", "#00e000"]}, "legend": null}
       }},
      {"transform": [{"filter": "isValid(datum.m)"}],
       "mark": {"type": "line", "strokeWidth": 1.3},
       "encoding": {
        "x": {"field": "d", "type": "temporal", "title": null, "axis": {"orient": "top", "labels": false, "values": [{"year":2004,"month":1,"date":1},{"year":2004,"month":2,"date":15},{"year":2004,"month":4,"date":1},{"year":2004,"month":5,"date":16},{"year":2004,"month":7,"date":1},{"year":2004,"month":8,"date":16},{"year":2004,"month":10,"date":1},{"year":2004,"month":11,"date":15},{"year":2005,"month":1,"date":1},{"year":2005,"month":2,"date":15},{"year":2005,"month":4,"date":1},{"year":2005,"month":5,"date":16},{"year":2005,"month":7,"date":1},{"year":2005,"month":8,"date":16},{"year":2005,"month":10,"date":1},{"year":2005,"month":11,"date":15},{"year":2006,"month":1,"date":1},{"year":2006,"month":2,"date":15},{"year":2006,"month":4,"date":1},{"year":2006,"month":5,"date":16},{"year":2006,"month":7,"date":1},{"year":2006,"month":8,"date":16},{"year":2006,"month":10,"date":1},{"year":2006,"month":11,"date":15},{"year":2007,"month":1,"date":1}], "minExtent": 0, "maxExtent": 0}},
        "y": {"field": "m", "type": "quantitative", "title": null, "axis": {"orient": "right", "labels": false, "values": [0.002,0.003,0.004,0.005,0.006,0.007,0.008,0.009,0.01,0.011,0.012], "minExtent": 0, "maxExtent": 0}},
        "color": {"datum": "mlh calculation", "type": "nominal", "legend": null}
       }}
     ]
    },
    {
     "title": "Swaption 3y into 7y", "width": 364, "height": 104, "data": {"name": "s4"},
     "resolve": {"axis": {"x": "independent", "y": "independent"}},
     "layer": [
      {"transform": [{"fold": ["u", "l"], "as": ["k", "v"]}, {"filter": "isValid(datum.v)"}],
       "mark": {"type": "line", "strokeWidth": 0.8},
       "encoding": {
        "x": {"field": "d", "type": "temporal", "title": null, "scale": {"domain": [{"year": 2004, "month": 1, "date": 1}, {"year": 2007, "month": 1, "date": 1}]}, "axis": {"values": [{"year":2004,"month":1,"date":1},{"year":2004,"month":2,"date":15},{"year":2004,"month":4,"date":1},{"year":2004,"month":5,"date":16},{"year":2004,"month":7,"date":1},{"year":2004,"month":8,"date":16},{"year":2004,"month":10,"date":1},{"year":2004,"month":11,"date":15},{"year":2005,"month":1,"date":1},{"year":2005,"month":2,"date":15},{"year":2005,"month":4,"date":1},{"year":2005,"month":5,"date":16},{"year":2005,"month":7,"date":1},{"year":2005,"month":8,"date":16},{"year":2005,"month":10,"date":1},{"year":2005,"month":11,"date":15},{"year":2006,"month":1,"date":1},{"year":2006,"month":2,"date":15},{"year":2006,"month":4,"date":1},{"year":2006,"month":5,"date":16},{"year":2006,"month":7,"date":1},{"year":2006,"month":8,"date":16},{"year":2006,"month":10,"date":1},{"year":2006,"month":11,"date":15},{"year":2007,"month":1,"date":1}], "labelExpr": "date(datum.value) == 1 ? timeFormat(datum.value, '%m/%y') : ''"}},
        "y": {"field": "v", "type": "quantitative", "title": null, "scale": {"domain": [0.018, 0.032], "nice": false, "zero": false}, "axis": {"values": [0.018,0.02,0.022,0.024,0.026,0.028,0.03,0.032], "format": "~g", "minExtent": 43, "maxExtent": 43}},
        "detail": {"field": "k"},
        "color": {"datum": "market spread", "type": "nominal", "scale": {"domain": ["market spread", "mlh calculation"], "range": ["#5a5aff", "#00e000"]}, "legend": null}
       }},
      {"transform": [{"filter": "isValid(datum.m)"}],
       "mark": {"type": "line", "strokeWidth": 1.3},
       "encoding": {
        "x": {"field": "d", "type": "temporal", "title": null, "axis": {"orient": "top", "labels": false, "values": [{"year":2004,"month":1,"date":1},{"year":2004,"month":2,"date":15},{"year":2004,"month":4,"date":1},{"year":2004,"month":5,"date":16},{"year":2004,"month":7,"date":1},{"year":2004,"month":8,"date":16},{"year":2004,"month":10,"date":1},{"year":2004,"month":11,"date":15},{"year":2005,"month":1,"date":1},{"year":2005,"month":2,"date":15},{"year":2005,"month":4,"date":1},{"year":2005,"month":5,"date":16},{"year":2005,"month":7,"date":1},{"year":2005,"month":8,"date":16},{"year":2005,"month":10,"date":1},{"year":2005,"month":11,"date":15},{"year":2006,"month":1,"date":1},{"year":2006,"month":2,"date":15},{"year":2006,"month":4,"date":1},{"year":2006,"month":5,"date":16},{"year":2006,"month":7,"date":1},{"year":2006,"month":8,"date":16},{"year":2006,"month":10,"date":1},{"year":2006,"month":11,"date":15},{"year":2007,"month":1,"date":1}], "minExtent": 0, "maxExtent": 0}},
        "y": {"field": "m", "type": "quantitative", "title": null, "axis": {"orient": "right", "labels": false, "values": [0.018,0.02,0.022,0.024,0.026,0.028,0.03,0.032], "minExtent": 0, "maxExtent": 0}},
        "color": {"datum": "mlh calculation", "type": "nominal", "legend": null}
       }}
     ]
    }
   ]
  }
 ],
 "spacing": 4,
 "resolve": {"legend": {"color": "independent"}}
}
